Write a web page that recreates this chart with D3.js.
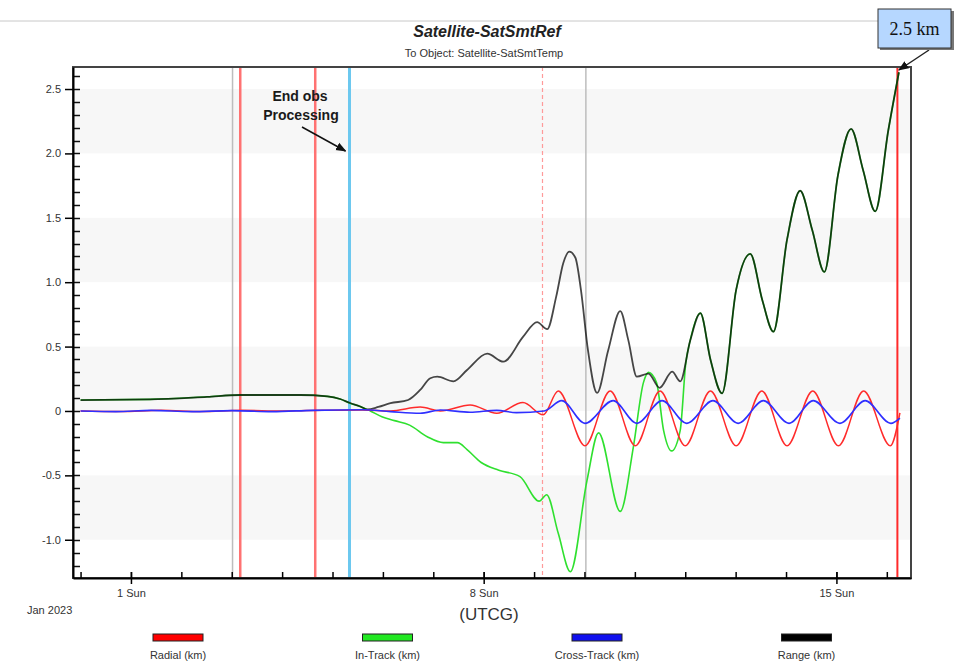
<!DOCTYPE html>
<html>
<head>
<meta charset="utf-8">
<script src="https://cdn.jsdelivr.net/npm/d3@7"></script>
<style>
body { margin: 0; background: #fff; }
</style>
</head>
<body>
<div id="chart"></div>
<script>
// all times are days after 1 Jan 2023 00:00 UTCG
var rangeDays = [-1.0, 0.38, 1.51, 2.17, 3.36, 3.9, 4.15, 4.35, 4.55, 4.69, 4.91, 5.15, 5.5, 5.74, 5.94, 6.08, 6.4, 6.67, 7.07, 7.39, 7.78, 8.06, 8.26, 8.44, 8.58, 8.7, 8.82, 8.93, 9.07, 9.25, 9.47, 9.71, 9.87, 10.04, 10.27, 10.49, 10.74, 10.9, 11.1, 11.3, 11.5, 11.73, 12.01, 12.29, 12.53, 12.75, 13.02, 13.28, 13.52, 13.76, 14.03, 14.29, 14.53, 14.77, 15.03, 15.24];
var rangeKm = [0.085, 0.09, 0.11, 0.124, 0.124, 0.113, 0.093, 0.062, 0.035, 0.012, 0.031, 0.06, 0.085, 0.163, 0.254, 0.266, 0.23, 0.318, 0.445, 0.383, 0.575, 0.69, 0.635, 0.89, 1.149, 1.237, 1.19, 0.94, 0.47, 0.14, 0.47, 0.776, 0.55, 0.266, 0.29, 0.18, 0.305, 0.23, 0.55, 0.76, 0.40, 0.137, 0.94, 1.22, 0.86, 0.616, 1.33, 1.71, 1.405, 1.08, 1.83, 2.19, 1.87, 1.55, 2.18, 2.63];

var inTrackDays = [-1.0, 0.38, 1.51, 2.17, 3.36, 3.9, 4.15, 4.35, 4.55, 4.75, 4.98, 5.23, 5.53, 5.88, 6.2, 6.48, 6.67, 6.95, 7.3, 7.72, 8.1, 8.25, 8.48, 8.72, 9.05, 9.28, 9.71, 9.97, 10.17, 10.27, 10.43, 10.57, 10.73, 10.9, 11.01, 11.1, 11.3, 11.5, 11.73, 12.01, 12.29, 12.53, 12.75, 13.02, 13.28, 13.52, 13.76, 14.03, 14.29, 14.53, 14.77, 15.03, 15.24];
var inTrackKm = [0.085, 0.09, 0.11, 0.124, 0.124, 0.113, 0.093, 0.06, 0.035, 0.0, -0.045, -0.075, -0.11, -0.2, -0.246, -0.246, -0.3, -0.4, -0.46, -0.51, -0.7, -0.65, -0.95, -1.248, -0.54, -0.17, -0.78, -0.28, 0.22, 0.30, 0.22, -0.15, -0.31, -0.15, 0.37, 0.55, 0.76, 0.40, 0.137, 0.94, 1.22, 0.86, 0.616, 1.33, 1.71, 1.405, 1.08, 1.83, 2.19, 1.87, 1.55, 2.18, 2.63];

var radialDays = [-1.0, -0.2, 0.6, 1.4, 2.2, 3.0, 3.8, 4.6, 5.15, 5.74, 6.14, 6.73, 7.26, 7.78, 8.18, 8.48, 9.01, 9.51, 10.01, 10.5, 11.0, 11.5, 12.01, 12.52, 13.02, 13.53, 14.04, 14.54, 15.07, 15.26];
var radialKm = [0, -0.005, 0.005, -0.005, 0.005, 0, 0.005, 0.008, 0.0, 0.03, 0.0, 0.047, -0.018, 0.065, -0.03, 0.155, -0.27, 0.155, -0.27, 0.155, -0.27, 0.155, -0.27, 0.155, -0.27, 0.155, -0.27, 0.155, -0.27, -0.015];

var crossDays = [-1.0, -0.3, 0.4, 1.2, 2.0, 2.8, 3.6, 4.6, 5.15, 5.74, 6.14, 6.73, 7.26, 7.65, 8.2, 8.55, 9.01, 9.57, 10.04, 10.54, 11.03, 11.55, 12.05, 12.55, 13.06, 13.54, 14.07, 14.57, 15.08, 15.26];
var crossKm = [0, -0.005, 0.005, -0.005, 0.003, -0.005, 0.005, 0.01, -0.005, -0.018, 0.008, -0.01, 0.005, -0.013, 0.0, 0.08, -0.096, 0.08, -0.096, 0.08, -0.096, 0.08, -0.096, 0.08, -0.096, 0.08, -0.096, 0.08, -0.096, -0.055];

// vertical event markers
var eventDays = [2.016, 2.169, 3.657, 4.337, 8.167, 9.028, 15.21];
var eventKinds = ["gray", "red", "red", "cyan", "dash", "gray", "now"];

var yMajor = [-1.0, -0.5, 0, 0.5, 1.0, 1.5, 2.0, 2.5];
var legendNames = ["Radial (km)", "In-Track (km)", "Cross-Track (km)", "Range (km)"];

var width = 954, height = 662;
var margin = {top: 67, right: 43, bottom: 84, left: 73};
var sans = "Liberation Sans, Arial, sans-serif";
var t0 = Date.UTC(2023, 0, 1);
function day(d) { return new Date(t0 + d * 864e5); }

var x = d3.scaleUtc()
    .domain([day(-1.15), day(15.48)])
    .range([margin.left, width - margin.right]);
var y = d3.scaleLinear()
    .domain([-1.297, 2.671])
    .range([height - margin.bottom, margin.top]);

var svg = d3.select("#chart").append("svg")
    .attr("width", width)
    .attr("height", height)
    .style("font-family", sans);

var defs = svg.append("defs");
defs.append("clipPath").attr("id", "plot")
  .append("rect")
    .attr("x", margin.left).attr("y", margin.top)
    .attr("width", width - margin.left - margin.right)
    .attr("height", height - margin.top - margin.bottom);
defs.append("marker").attr("id", "arrow")
    .attr("viewBox", "0 0 10 10").attr("refX", 9).attr("refY", 5)
    .attr("markerWidth", 7).attr("markerHeight", 7).attr("orient", "auto")
  .append("path").attr("d", "M0,1L10,5L0,9z").attr("fill", "#111");

// top rule and titles
svg.append("line").attr("x1", 0).attr("x2", 878).attr("y1", 21).attr("y2", 21)
    .attr("stroke", "#c8c8c8");
svg.append("text").attr("x", 487).attr("y", 37).attr("text-anchor", "middle")
    .attr("font-size", 16).attr("font-weight", "bold").attr("font-style", "italic")
    .attr("fill", "#222").text("Satellite-SatSmtRef");
svg.append("text").attr("x", 484).attr("y", 57).attr("text-anchor", "middle")
    .attr("font-size", 11).attr("fill", "#333").text("To Object: Satellite-SatSmtTemp");

// background bands
var bands = svg.append("g");
[-1.0, 0, 1.0, 2.0].forEach(function(v) {
  bands.append("rect")
      .attr("x", margin.left).attr("width", width - margin.left - margin.right)
      .attr("y", y(v + 0.5)).attr("height", y(v) - y(v + 0.5))
      .attr("fill", "#f7f7f7");
});

// event lines
var eventStyle = {
  gray: {stroke: "#bdbdbd", w: 1.5, dash: null},
  red: {stroke: "#ff7272", w: 2.5, dash: null},
  cyan: {stroke: "#6cc8ef", w: 3, dash: null},
  dash: {stroke: "#ff9a9a", w: 1.2, dash: "4,3"},
  now: {stroke: "#ff2a2a", w: 2, dash: null}
};
svg.append("g").selectAll("line")
  .data(eventDays)
  .join("line")
    .attr("x1", function(d) { return x(day(d)); })
    .attr("x2", function(d) { return x(day(d)); })
    .attr("y1", margin.top).attr("y2", height - margin.bottom)
    .attr("stroke", function(d, i) { return eventStyle[eventKinds[i]].stroke; })
    .attr("stroke-width", function(d, i) { return eventStyle[eventKinds[i]].w; })
    .attr("stroke-dasharray", function(d, i) { return eventStyle[eventKinds[i]].dash; });

// series
var line = d3.line()
    .x(function(d) { return x(day(d[0])); })
    .y(function(d) { return y(d[1]); })
    .curve(d3.curveMonotoneX);

var series = [
  {days: inTrackDays, km: inTrackKm, color: "#2fe02f", w: 1.6, op: 1},
  {days: rangeDays, km: rangeKm, color: "#000", w: 1.8, op: 0.72},
  {days: radialDays, km: radialKm, color: "#ff2b2b", w: 1.5, op: 1},
  {days: crossDays, km: crossKm, color: "#2f2fff", w: 1.6, op: 1}
];
var lines = svg.append("g").attr("clip-path", "url(#plot)");
series.forEach(function(s) {
  lines.append("path")
      .datum(d3.zip(s.days, s.km))
      .attr("fill", "none")
      .attr("stroke", s.color)
      .attr("stroke-width", s.w)
      .attr("stroke-opacity", s.op)
      .attr("d", line);
});

// frame
svg.append("rect")
    .attr("x", margin.left).attr("y", margin.top)
    .attr("width", width - margin.left - margin.right)
    .attr("height", height - margin.top - margin.bottom)
    .attr("fill", "none").attr("stroke", "#444").attr("stroke-width", 2);

// y axis: minor ticks every 0.1 inside the frame
var minorY = d3.range(-12, 27).map(function(i) { return i / 10; });
svg.append("g").selectAll("line")
  .data(minorY)
  .join("line")
    .attr("x1", margin.left).attr("x2", margin.left + 7)
    .attr("y1", function(d) { return Math.round(y(d)) + 0.5; })
    .attr("y2", function(d) { return Math.round(y(d)) + 0.5; })
    .attr("stroke", "#111").attr("stroke-width", 1.5);
svg.append("g")
    .attr("transform", "translate(" + margin.left + ",0)")
    .call(d3.axisLeft(y).tickValues(yMajor).tickSizeInner(8).tickSizeOuter(0).tickPadding(4)
      .tickFormat(function(d) { return d === 0 ? "0" : d3.format(".1f")(d).replace("\u2212", "-"); }))
    .call(function(g) {
      g.select(".domain").attr("stroke-width", 2);
      g.selectAll("line").attr("stroke-width", 1.5);
      g.selectAll("text").attr("font-size", 11).attr("fill", "#333").style("font-family", sans);
    });

// x axis
var xb = height - margin.bottom;
svg.append("g")
    .attr("transform", "translate(0," + xb + ")")
    .call(d3.axisBottom(x).ticks(d3.utcDay.every(1)).tickSize(-6).tickFormat(""))
    .call(function(g) { g.select(".domain").remove(); g.selectAll("line").attr("stroke-width", 1.5); });
svg.append("g")
    .attr("transform", "translate(0," + xb + ")")
    .call(d3.axisBottom(x).ticks(d3.utcSunday.every(1)).tickSizeInner(6).tickSizeOuter(0).tickPadding(5)
      .tickFormat(d3.utcFormat("%-d %a")))
    .call(function(g) {
      g.select(".domain").attr("stroke-width", 2);
      g.selectAll("line").attr("y1", -6).attr("stroke-width", 1.5);
      g.selectAll("text").attr("font-size", 11).attr("fill", "#333").style("font-family", sans);
    });
svg.append("text").attr("x", 27).attr("y", 614).attr("font-size", 11).attr("fill", "#333")
    .text("Jan 2023");
svg.append("text").attr("x", 489).attr("y", 620).attr("text-anchor", "middle")
    .attr("font-size", 17).attr("fill", "#333").text("(UTCG)");

// legend
var legend = svg.append("g").selectAll("g")
  .data(legendNames)
  .join("g")
    .attr("transform", function(d, i) { return "translate(" + (178 + i * 209.5) + ",0)"; });
var legendColors = ["#ff0000", "#22e822", "#1010ee", "#000"];
legend.append("rect").attr("x", -25).attr("y", 634).attr("width", 50).attr("height", 7)
    .attr("fill", function(d, i) { return legendColors[i]; })
    .attr("stroke", "#222").attr("stroke-width", 1);
legend.append("text").attr("y", 659).attr("text-anchor", "middle")
    .attr("font-size", 11).attr("fill", "#333").text(function(d) { return d; });

// annotation: End obs Processing
var ann = svg.append("g").attr("font-size", 14).attr("font-weight", "bold")
    .attr("fill", "#1a1a1a").attr("text-anchor", "middle");
ann.append("text").attr("x", 300).attr("y", 101).text("End obs");
ann.append("text").attr("x", 301).attr("y", 120).text("Processing");
svg.append("line").attr("x1", 302).attr("y1", 127).attr("x2", x(day(eventDays[3])) - 4).attr("y2", 151)
    .attr("stroke", "#111").attr("stroke-width", 1.5).attr("marker-end", "url(#arrow)");

// callout for last range value
var lastX = x(day(rangeDays[rangeDays.length - 1]));
svg.append("line").attr("x1", 929).attr("y1", 50).attr("x2", lastX).attr("y2", 70)
    .attr("stroke", "#222").attr("stroke-width", 1.5).attr("marker-end", "url(#arrow)");
svg.append("rect").attr("x", 880).attr("y", 11).attr("width", 74).attr("height", 39).attr("fill", "#777");
svg.append("rect").attr("x", 878).attr("y", 9).attr("width", 73).attr("height", 39)
    .attr("fill", "#b6d7ff").attr("stroke", "#333").attr("stroke-width", 1);
svg.append("text").attr("x", 914.5).attr("y", 35).attr("text-anchor", "middle")
    .style("font-family", "Liberation Serif, Times New Roman, serif").attr("font-size", 18)
    .attr("fill", "#111").text("2.5 km");
</script>
</body>
</html>
